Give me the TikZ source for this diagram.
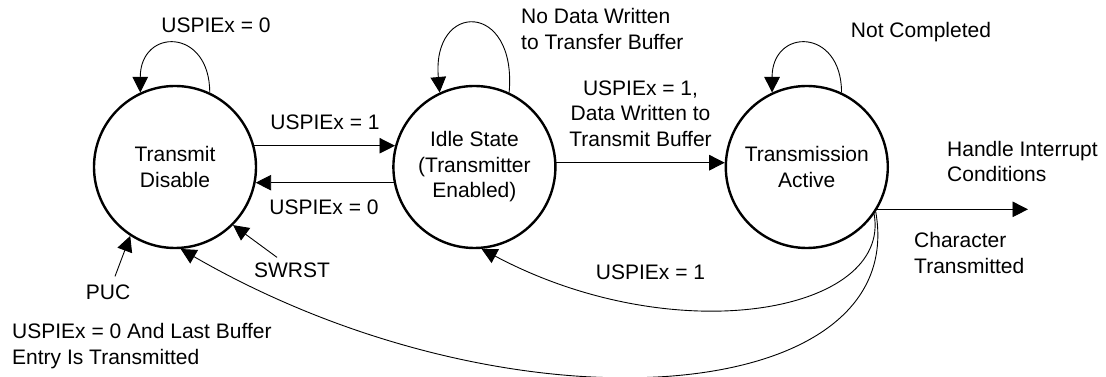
\documentclass[tikz,border=0pt]{standalone}
\usepackage{fontspec}
\setmainfont{Liberation Sans}
\usepackage{tikz}
\usetikzlibrary{arrows.meta,positioning}

\begin{document}
\begin{tikzpicture}[
  x=1pt, y=1pt,
  font=\fontsize{21}{25.5}\selectfont,
  circstate/.style={draw, circle, line width=2.4pt, minimum size=162pt, inner sep=0pt, align=center},
  lbl/.style={inner sep=0pt, align=center},
  lblleft/.style={inner sep=0pt, align=left, anchor=west},
  arrow/.style={-{Triangle[length=15.5pt,width=15.5pt]}, line width=0.9pt}
]
  \useasboundingbox (0,0) rectangle (1106,377);

  \node[circstate] (disable) at (175,210) {Transmit\\Disable};
  \node[circstate, right=135pt of disable] (idle) {Idle State\\(Transmitter\\Enabled)};
  \node[circstate, right=168pt of idle] (active) {Transmission\\Active};

  % self loops
  \draw[arrow] (disable.65) .. controls +(90:65) and +(90:65) .. (disable.115);
  \draw[arrow] (idle.65) .. controls +(85:92) and +(95:92) .. (idle.115);
  \draw[arrow] (active.65) .. controls +(90:65) and +(90:65) .. (active.115);

  \node[lbl] (loopdis) at (216,352) {USPIEx = 0};
  \node[lblleft] (loopidle) at (521,348) {No Data Written\\to Transfer Buffer};
  \node[lbl] (loopact) at (921,345) {Not Completed};

  % straight transitions
  \draw[arrow] (disable.15) -- (idle.165);
  \draw[arrow] (idle.191) -- (disable.-11);
  \draw[arrow] (idle.3) -- (active.177);

  \node[lbl] (enable) at (325,255) {USPIEx = 1};
  \node[lbl] (disoff) at (324,169.5) {USPIEx = 0};
  \node[lbl] (written) at (640.5,263.5) {USPIEx = 1,\\Data Written to\\Transmit Buffer};

  % interrupt output
  \coordinate (hout) at (1028,168);
  \draw[arrow] (active.-31) -- (active.-31 -| hout);
  \node[lblleft] (handle) at (947,215.5) {Handle Interrupt\\Conditions};
  \node[lblleft] (chartx) at (914,124) {Character\\Transmitted};

  % return paths
  \draw[arrow] (active.-35) .. controls +(-80:100) and +(-28:220) .. (idle.-85);
  \draw[arrow] (active.-33) .. controls +(-80:200) and +(-30:380) .. (disable.-86);
  \node[lbl] (back) at (650.5,104.5) {USPIEx = 1};
  \node[lblleft] (lastbuf) at (12,31) {USPIEx = 0 And Last Buffer\\Entry Is Transmitted};

  % resets
  \node[lbl] (puc) at (108,85) {PUC};
  \node[lbl] (swrst) at (292,107) {SWRST};
  \draw[arrow] ([xshift=7pt,yshift=8pt]puc.north) -- (disable.237);
  \draw[arrow] ([xshift=-15pt,yshift=5pt]swrst.north) -- (disable.-45);
\end{tikzpicture}
\end{document}
